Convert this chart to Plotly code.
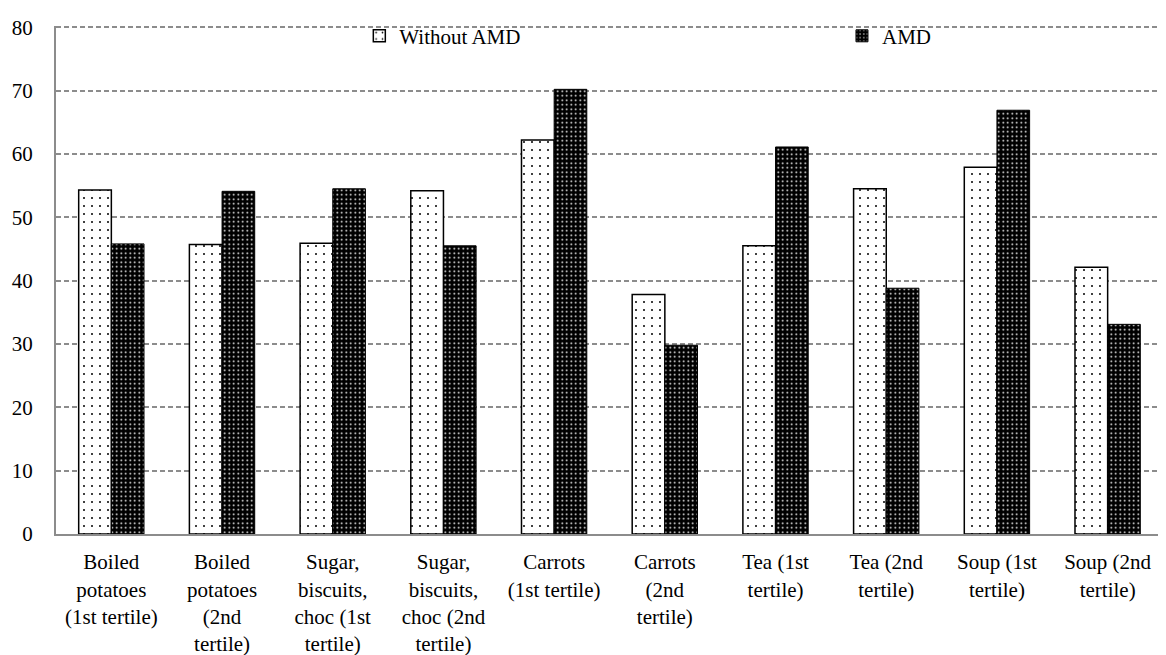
import plotly.graph_objects as go

categories = [
    "Boiled<br>potatoes<br>(1st tertile)",
    "Boiled<br>potatoes<br>(2nd<br>tertile)",
    "Sugar,<br>biscuits,<br>choc (1st<br>tertile)",
    "Sugar,<br>biscuits,<br>choc (2nd<br>tertile)",
    "Carrots<br>(1st tertile)",
    "Carrots<br>(2nd<br>tertile)",
    "Tea (1st<br>tertile)",
    "Tea (2nd<br>tertile)",
    "Soup (1st<br>tertile)",
    "Soup (2nd<br>tertile)",
]
without_amd = [54.3, 45.7, 45.9, 54.2, 62.2, 37.8, 45.5, 54.5, 57.9, 42.1]
amd = [45.8, 54.1, 54.5, 45.5, 70.2, 29.8, 61.1, 38.8, 66.9, 33.1]
y_ticks = [0, 10, 20, 30, 40, 50, 60, 70, 80]

FONT = "Liberation Serif"
FS = 21

fig = go.Figure()
fig.add_trace(go.Bar(
    x=categories, y=without_amd, name="Without AMD", legend="legend",
    marker=dict(color="white", line=dict(color="black", width=1.5),
                pattern=dict(shape=".", fgcolor="black", bgcolor="white",
                             size=8, solidity=0.05, fillmode="replace")),
))
fig.add_trace(go.Bar(
    x=categories, y=amd, name="AMD", legend="legend2",
    marker=dict(color="black", line=dict(color="black", width=1),
                pattern=dict(shape=".", fgcolor="white", bgcolor="black",
                             size=4.5, solidity=0.12, fillmode="replace")),
))

leg_common = dict(orientation="h", yanchor="middle", xanchor="left",
                  bgcolor="rgba(0,0,0,0)", font=dict(family=FONT, size=FS, color="black"),
                  itemwidth=30)

fig.update_layout(
    width=1166, height=655,
    margin=dict(l=48, r=11, t=18, b=129, autoexpand=False),
    paper_bgcolor="white", plot_bgcolor="white",
    font=dict(family=FONT, size=FS, color="black"),
    barmode="group", bargap=0.41, bargroupgap=0,
    showlegend=True,
    legend=dict(x=0.274, y=0.98, **leg_common),
    legend2=dict(x=0.710, y=0.98, **leg_common),
    xaxis=dict(showline=True, linecolor="#8c8c8c", linewidth=2,
               ticks="outside", ticklen=8, tickcolor="rgba(0,0,0,0)",
               showgrid=False, tickangle=0, automargin=False,
               tickfont=dict(family=FONT, size=FS, color="black")),
    yaxis=dict(range=[0, 80.2], tickvals=y_ticks, showline=True, linecolor="#8c8c8c",
               linewidth=2, ticks="outside", ticklen=17, tickcolor="rgba(0,0,0,0)",
               showgrid=True, gridcolor="#8c8c8c", griddash="5px,3px", gridwidth=1.5,
               zeroline=False, automargin=False,
               tickfont=dict(family=FONT, size=FS, color="black")),
)

fig.write_html("out.html")
